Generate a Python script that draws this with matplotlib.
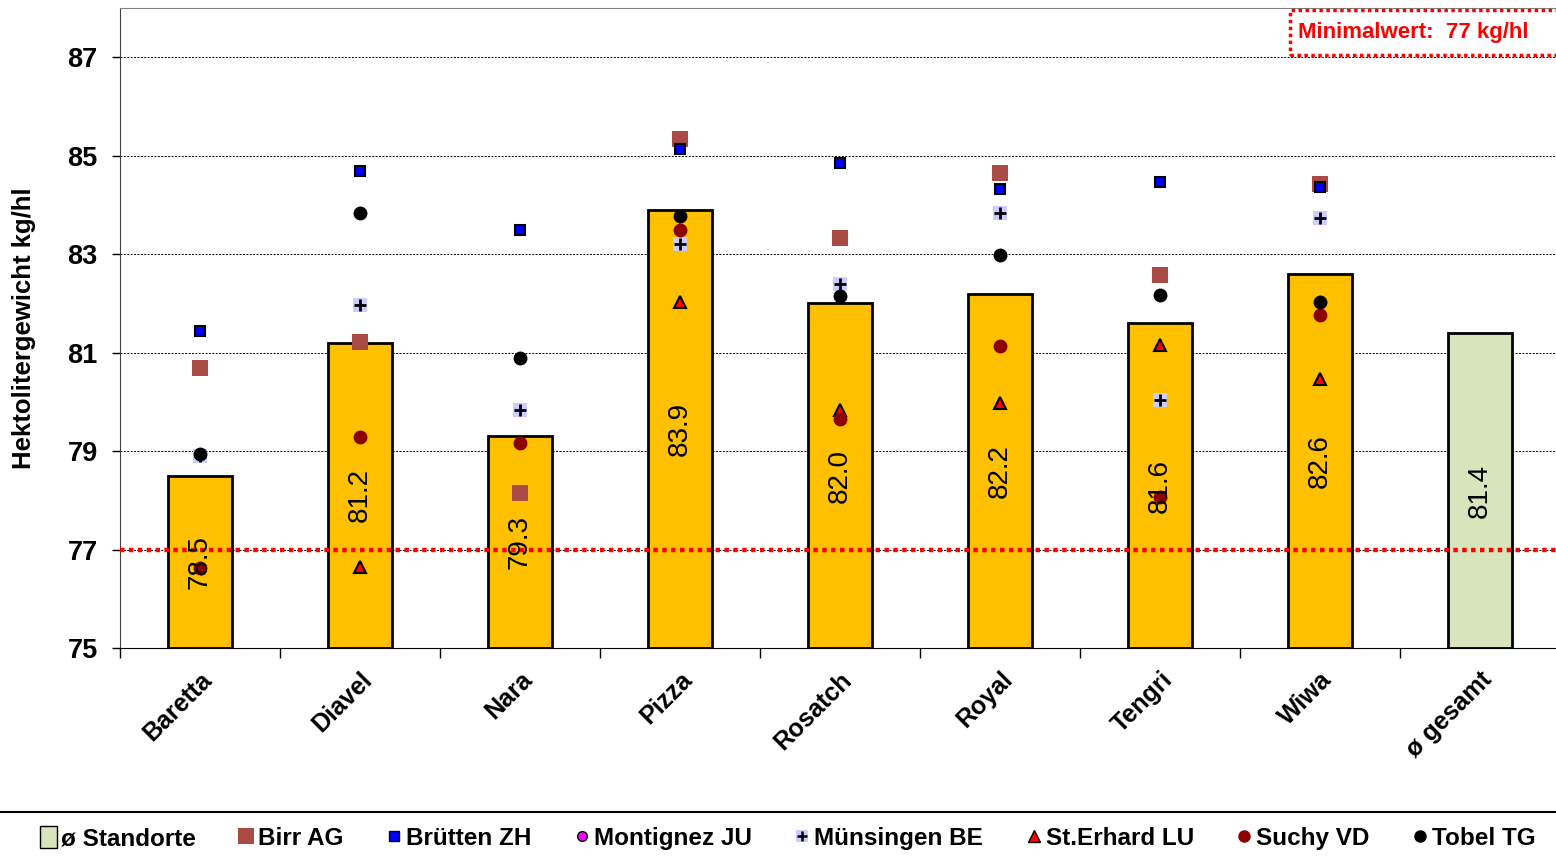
import numpy as np
import matplotlib
matplotlib.use("Agg")
import matplotlib.pyplot as plt
from matplotlib.lines import Line2D
from matplotlib.patches import Patch, Rectangle
from matplotlib.transforms import ScaledTranslation

plt.rcParams['font.family'] = ['Liberation Sans', 'DejaVu Sans']

categories = ["Baretta", "Diavel", "Nara", "Pizza", "Rosatch", "Royal", "Tengri", "Wiwa", "ø gesamt"]
mean_values = [78.5, 81.2, 79.3, 83.9, 82.0, 82.2, 81.6, 82.6, 81.4]
nan = np.nan
birr_ag = [80.69, 81.21, 78.15, 85.34, 83.32, 84.64, 82.57, 84.42, nan]
bruetten_zh = [81.44, 84.69, 83.49, 85.13, 84.85, 84.32, 84.46, 84.36, nan]
montignez_ju = [nan, nan, nan, nan, nan, nan, nan, nan, nan]
muensingen_be = [78.90, 81.96, 79.83, 83.20, 82.39, 83.83, 80.04, 83.73, nan]
sterhard_lu = [nan, 76.64, nan, 82.03, 79.83, 79.97, 81.15, 80.46, nan]
suchy_vd = [76.62, 79.28, 79.16, 83.49, 79.65, 81.13, 78.07, 81.76, nan]
tobel_tg = [78.94, 83.83, 80.89, 83.77, 82.15, 82.98, 82.17, 82.03, nan]
min_value = 77
y_ticks = [75, 77, 79, 81, 83, 85, 87]

W, H = 1556, 861
fig = plt.figure(figsize=(W / 100, H / 100), dpi=100)
ax = fig.add_axes([120 / W, 1 - 648 / H, 1440 / W, 640 / H])

x = np.arange(len(categories))
bar_colors = ['#FFC000'] * (len(categories) - 1) + ['#D8E4BC']
ax.bar(x, [v - 75 for v in mean_values], bottom=75, width=0.4, color=bar_colors,
       edgecolor='black', linewidth=2, zorder=2)

for xi, v in zip(x, mean_values):
    ax.text(xi, (75 + v) / 2, f"{v:.1f}", rotation=90, ha='center', va='center',
            fontsize=20, color='black', zorder=10)

ax.axhline(min_value, color='#FF0000', linestyle=(0, (1, 1)), linewidth=3.2, zorder=3)

ms = 7.5
ax.plot(x, birr_ag, 's', color='#A94A44', markersize=12, markeredgewidth=0, zorder=4)
ax.plot(x, bruetten_zh, 's', color='#0000FF', markeredgecolor='black', markersize=ms,
        markeredgewidth=1.5, zorder=4)
ax.plot(x, montignez_ju, 'o', color='#FF00FF', markeredgecolor='black', markersize=ms, zorder=4)
ax.plot(x, muensingen_be, 's', color='#CCCCFF', markeredgewidth=0, markersize=10, zorder=4)
ax.plot(x, muensingen_be, '+', color='black', markersize=8, markeredgewidth=2, zorder=4)
ax.plot(x, sterhard_lu, '^', color='#FF0000', markeredgecolor='black', markersize=8.5,
        markeredgewidth=1.5, zorder=4)
ax.plot(x, suchy_vd, 'o', color='#8B0000', markeredgewidth=0, markersize=10, zorder=4)
ax.plot(x, tobel_tg, 'o', color='black', markeredgewidth=0, markersize=10, zorder=4)

ax.set_xlim(-0.5, len(categories) - 0.5)
ax.set_ylim(75, 88)
ax.set_yticks(y_ticks)
ax.set_yticklabels([str(t) for t in y_ticks], fontsize=19.5, fontweight='bold')
for t in y_ticks[1:]:
    ax.axhline(t, color='black', linestyle=(0, (2, 1.5)), linewidth=0.7, zorder=1)

ax.set_xticks(x)
ax.set_xticklabels(categories, rotation=45, ha='right', rotation_mode='anchor',
                   fontsize=18, fontweight='bold')
shift = ScaledTranslation(-6 / 72, 0, fig.dpi_scale_trans)
for lab in ax.get_xticklabels():
    lab.set_transform(lab.get_transform() + shift)
ax.tick_params(axis='x', which='major', length=0, pad=14)
ax.set_xticks(np.arange(-0.5, len(categories), 1.0), minor=True)
ax.tick_params(axis='x', which='minor', length=7, width=1, direction='out')
ax.tick_params(axis='y', length=6, width=1, direction='out', pad=10)
ax.set_ylabel("Hektolitergewicht kg/hl", fontsize=18.5, fontweight='bold')
ax.yaxis.set_label_coords(-0.058, 0.5)

ax.spines['right'].set_visible(False)
ax.spines['top'].set_color('#808080')
ax.spines['left'].set_color('#404040')
ax.spines['bottom'].set_color('black')

ax.add_patch(Rectangle((0.8125, 0.9266), 0.9986 - 0.8125, 0.997 - 0.9266, transform=ax.transAxes,
                       facecolor='white', edgecolor='#FF0000', linestyle=(0, (1, 1)),
                       linewidth=2.5, zorder=11, clip_on=False))
ax.text(0.8181, 0.961, "Minimalwert:  77 kg/hl", transform=ax.transAxes, ha='left', va='center',
        fontsize=16, fontweight='bold', color='#FF0000', zorder=12)

fig.add_artist(Line2D([0, 1], [1 - 812 / H, 1 - 812 / H], transform=fig.transFigure,
                      color='black', linewidth=1.5))

handles = [
    Patch(facecolor='#D8E4BC', edgecolor='black', linewidth=1),
    Line2D([], [], marker='s', color='#A94A44', linestyle='none', markersize=11, markeredgewidth=0),
    Line2D([], [], marker='s', color='#0000FF', markeredgecolor='black', linestyle='none', markersize=7),
    Line2D([], [], marker='o', color='#FF00FF', markeredgecolor='black', linestyle='none', markersize=7),
    (Line2D([], [], marker='s', color='#CCCCFF', linestyle='none', markersize=9, markeredgewidth=0),
     Line2D([], [], marker='+', color='black', linestyle='none', markersize=7, markeredgewidth=1.8)),
    Line2D([], [], marker='^', color='#FF0000', markeredgecolor='black', linestyle='none', markersize=8),
    Line2D([], [], marker='o', color='#8B0000', linestyle='none', markersize=9, markeredgewidth=0),
    Line2D([], [], marker='o', color='black', linestyle='none', markersize=9, markeredgewidth=0),
]
labels = ["ø Standorte", "Birr AG", "Brütten ZH", "Montignez JU", "Münsingen BE",
          "St.Erhard LU", "Suchy VD", "Tobel TG"]
fig.legend(handles, labels, loc='center', bbox_to_anchor=(0.5 + 10 / W, 1 - 838 / H), ncol=8,
           frameon=False, prop={'size': 17.5, 'weight': 'bold'}, handlelength=0.7,
           handletextpad=0.15, columnspacing=1.72, handleheight=1.0)

fig.savefig("out.png", dpi=100)
